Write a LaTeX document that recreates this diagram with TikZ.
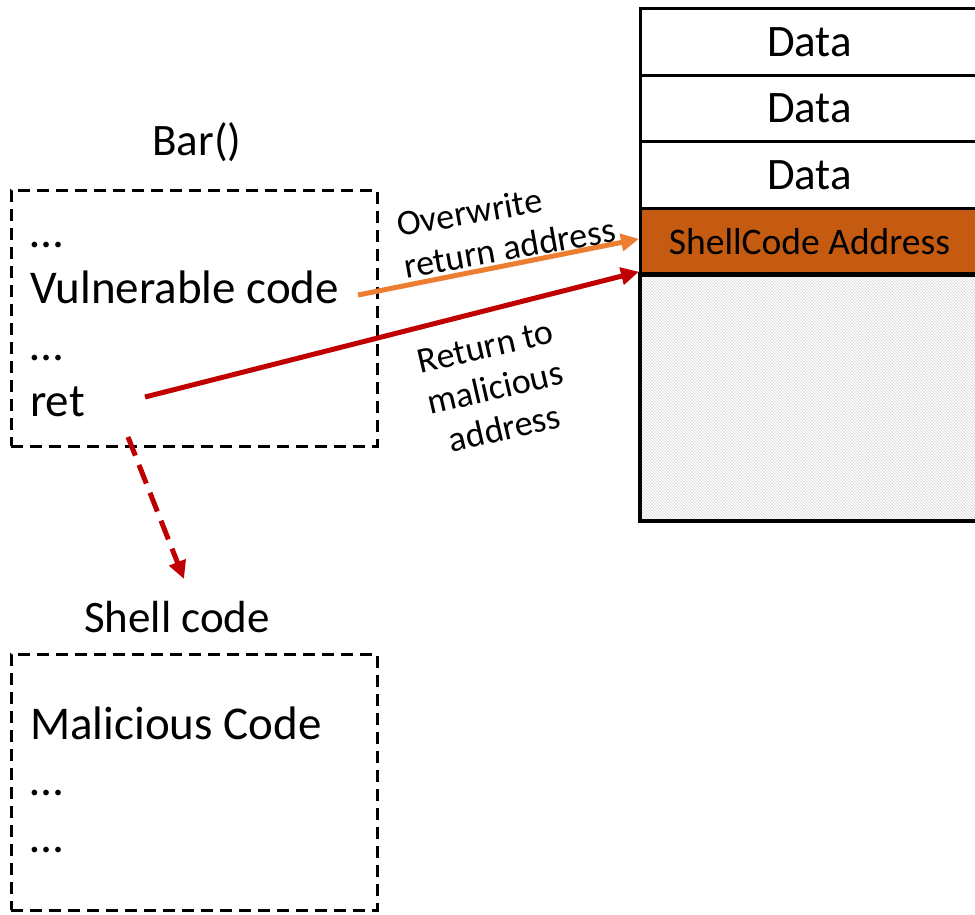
\documentclass[tikz,border=0pt]{standalone}
\usepackage{fontspec}
\setmainfont{Carlito}
\usetikzlibrary{arrows.meta,patterns,calc}
\definecolor{scfill}{RGB}{197,90,17}
\definecolor{orarrow}{RGB}{237,125,49}
\definecolor{redarrow}{RGB}{192,0,0}
\newcommand{\bigtxt}{\fontsize{45}{54}\selectfont}
\newcommand{\codetxt}{\fontsize{47}{56}\selectfont}
\newcommand{\lbltxt}{\fontsize{36}{42}\selectfont}
\newcommand{\sctxt}{\fontsize{37.5}{44}\selectfont}
\begin{document}
\begin{tikzpicture}[x=1pt,y=-1pt,
  stackrow/.style={draw=black,line width=3pt,minimum width=338pt,minimum height=66.7pt,anchor=north west,inner sep=0pt,font=\bigtxt},
  codebox/.style={draw=black,line width=2.5pt,dash pattern=on 12pt off 7pt,anchor=north west,minimum width=366pt,minimum height=256pt,inner sep=0pt},
  codeline/.style={anchor=base west,font=\codetxt,inner sep=0pt},
  title/.style={font=\bigtxt,inner sep=0pt},
  arr/.style={line width=5pt,-{Triangle[length=18pt,width=17pt]}},
  lbl/.style={font=\lbltxt,inner sep=0pt}]
\useasboundingbox (0,0) rectangle (975,914);
% stack
\node[stackrow] (d1) at (639,7) {Data};
\node[stackrow] (d2) at (639,73.7) {Data};
\node[stackrow] (d3) at (639,140.4) {Data};
\node[stackrow,fill=scfill,minimum height=66.6pt,font=\sctxt] (sc) at (639,207.1) {ShellCode Address};
\node[stackrow,minimum height=245pt,pattern=north west lines,pattern color=gray!35] (free) at (639,273.7) {};
\draw[line width=3pt] (free.north west) rectangle (free.south east);
% Bar box
\node[title] (bar) at (197,142) {Bar()};
\node[codebox] (box1) at (10,189) {};
\node[codeline] (v1) at (30,247) {\dots};
\node[codeline] (vc) at (30,303) {Vulnerable code};
\node[codeline] (v2) at (30,360) {\dots};
\node[codeline] (ret) at (30,416) {ret};
% Shell code box
\node[title] (shtitle) at (177,617) {Shell code};
\node[codebox] (box2) at (10,653) {};
\node[codeline] (m1) at (30,739) {Malicious Code};
\node[codeline] (m2) at (30,795) {\dots};
\node[codeline] (m3) at (30,852) {\dots};
% arrows
\coordinate (os) at (358,295);
\coordinate (rs) at (145,397);
\coordinate (ds) at (128,437);
\coordinate (de) at (184,579);
\coordinate (rt) at ($(sc.south west)+(0,-5)$);
\draw[arr,orarrow] (os) -- ([yshift=3pt]sc.west);
\draw[arr,redarrow] (rs) -- (rt);
\draw[line width=5pt,redarrow,dash pattern=on 20pt off 10pt,-{Triangle[length=18pt,width=17pt]}] (ds) -- (de);
% labels
\node[lbl,rotate=10,align=left] (ow) at (506,227) {Overwrite\\return address};
\node[lbl,rotate=13,align=center] (rm) at (495,388) {Return to\\malicious\\address};
\end{tikzpicture}
\end{document}
